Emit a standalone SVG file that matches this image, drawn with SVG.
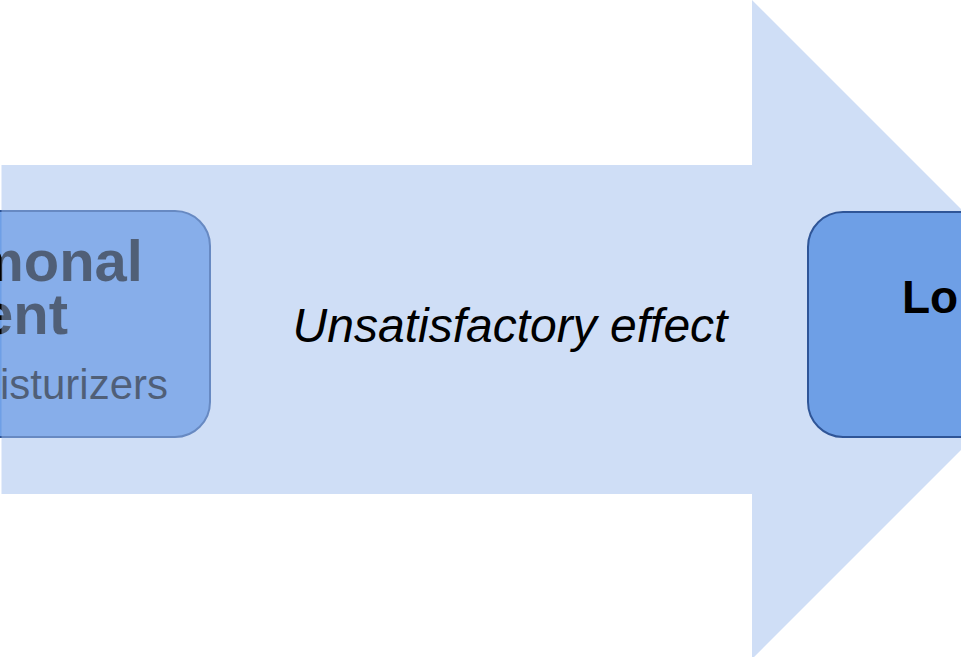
<svg xmlns="http://www.w3.org/2000/svg" width="961" height="657" viewBox="0 0 961 657">
<style>
.box{fill:#6e9fe6;stroke:#2f5597;stroke-width:2}
.t{font-family:"Liberation Sans",Arial,sans-serif;fill:#000}
.b{font-weight:bold}
</style>
<rect width="961" height="657" fill="#fff"/>
<g id="node-left">
<rect class="box" x="-200" y="211" width="410" height="226" rx="35" ry="35"/>
<text class="t b" x="143" y="281" font-size="58" text-anchor="end">monal</text>
<text class="t b" x="68" y="334" font-size="58" text-anchor="end">ent</text>
<text class="t" x="168" y="399" font-size="42" text-anchor="end">isturizers</text>
</g>
<g id="connectors">
<path id="big-arrow" d="M1.5,165 H752 V0 L1081.5,329.5 L752,659 V494 H1.5 Z" fill="#a0beee" fill-opacity="0.5"/>
<text class="t" x="510" y="342" font-size="48" font-style="italic" text-anchor="middle">Unsatisfactory effect</text>
</g>
<g id="node-right">
<rect class="box" x="808" y="212" width="400" height="225" rx="35" ry="35"/>
<text class="t b" x="902" y="313" font-size="46">Lo</text>
</g>
</svg>
